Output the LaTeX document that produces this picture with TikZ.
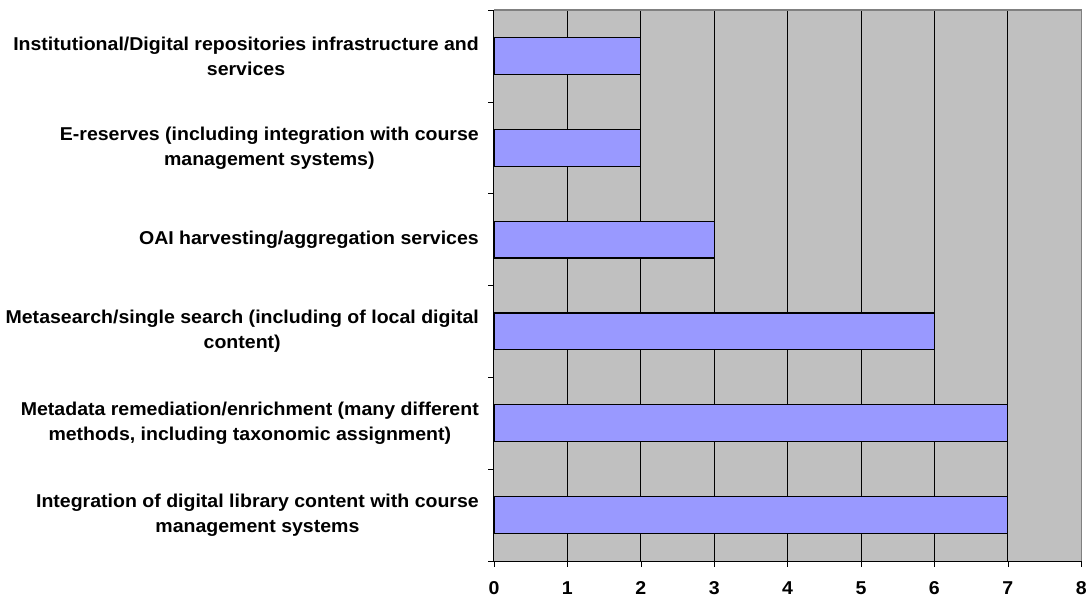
\documentclass[tikz,border=0pt]{standalone}
\usepackage{fontspec}
\setmainfont{Liberation Sans}[FakeStretch=1.05]
\usetikzlibrary{positioning}
\definecolor{plotbg}{HTML}{C0C0C0}
\definecolor{barblue}{HTML}{9999FF}
\definecolor{frame}{HTML}{808080}

\begin{document}
\begin{tikzpicture}[x=73.4pt,y=91.83pt,every node/.style={font=\fontsize{18.6}{25}\selectfont\bfseries,inner sep=0pt},
  grid/.style={line width=0.9pt},bar/.style={draw,line width=1.2pt,fill=barblue},cat/.style={anchor=east,align=center}]
  \useasboundingbox (-494pt,-37pt) rectangle (593pt,561pt);
  \fill[plotbg] (0,0) rectangle (8,6);
  \draw[grid](1,0)--(1,6);
  \draw[grid](2,0)--(2,6);
  \draw[grid](3,0)--(3,6);
  \draw[grid](4,0)--(4,6);
  \draw[grid](5,0)--(5,6);
  \draw[grid](6,0)--(6,6);
  \draw[grid](7,0)--(7,6);
  \draw[frame,line width=1.2pt](0,6)--(8,6)--(8,0);
  \draw[bar](0,5.3) rectangle (2,5.7);
  \draw[bar](0,4.3) rectangle (2,4.7);
  \draw[bar](0,3.3) rectangle (3,3.7);
  \draw[bar](0,2.3) rectangle (6,2.7);
  \draw[bar](0,1.3) rectangle (7,1.7);
  \draw[bar](0,0.3) rectangle (7,0.7);
  \draw[line width=1pt](0,6)--(0,0)--(8,0);
  \draw(0,0)--++(-6pt,0) (0,1)--++(-6pt,0) (0,2)--++(-6pt,0) (0,3)--++(-6pt,0) (0,4)--++(-6pt,0) (0,5)--++(-6pt,0) (0,6)--++(-6pt,0);
  \draw(0,0)--++(0,-6pt) (1,0)--++(0,-6pt) (2,0)--++(0,-6pt) (3,0)--++(0,-6pt) (4,0)--++(0,-6pt) (5,0)--++(0,-6pt) (6,0)--++(0,-6pt) (7,0)--++(0,-6pt) (8,0)--++(0,-6pt);
  \node[cat] (c1) at ([xshift=-15pt]0,5.5) {Institutional/Digital repositories infrastructure and\\services};
  \node[cat] (c2) at ([xshift=-15pt]0,4.5) {E-reserves (including integration with course\\management systems)};
  \node[cat] (c3) at ([xshift=-15pt]0,3.5) {OAI harvesting/aggregation services};
  \node[cat] (c4) at ([xshift=-15pt]0,2.5) {Metasearch/single search (including of local digital\\content)};
  \node[cat] (c5) at ([xshift=-15pt]0,1.5) {Metadata remediation/enrichment (many different\\methods, including taxonomic assignment)};
  \node[cat] (c6) at ([xshift=-15pt]0,0.5) {Integration of digital library content with course\\management systems};
  \node (t0) at ([yshift=-27pt]0,0) {0};
  \node (t1) at ([yshift=-27pt]1,0) {1};
  \node (t2) at ([yshift=-27pt]2,0) {2};
  \node (t3) at ([yshift=-27pt]3,0) {3};
  \node (t4) at ([yshift=-27pt]4,0) {4};
  \node (t5) at ([yshift=-27pt]5,0) {5};
  \node (t6) at ([yshift=-27pt]6,0) {6};
  \node (t7) at ([yshift=-27pt]7,0) {7};
  \node (t8) at ([yshift=-27pt]8,0) {8};
\end{tikzpicture}
\end{document}
